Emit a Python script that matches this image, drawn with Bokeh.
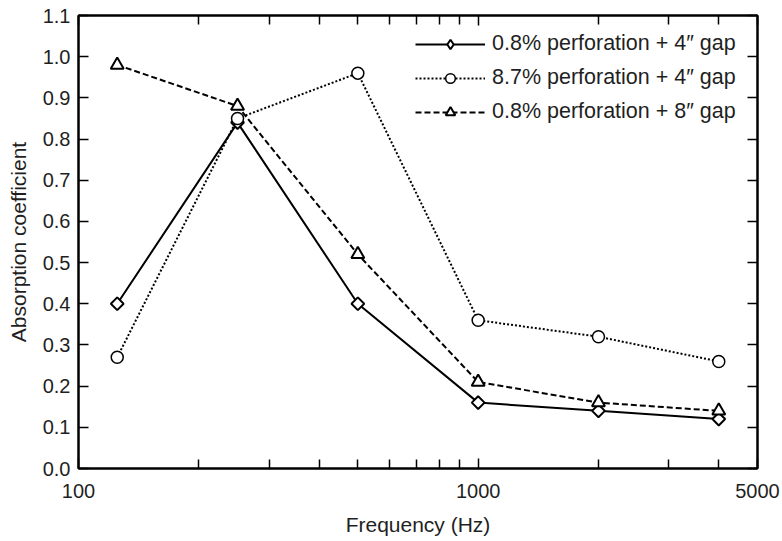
import math
from bokeh.plotting import figure
from bokeh.models import (LogAxis, LinearAxis, FixedTicker, Legend, LegendItem,
                          NumeralTickFormatter, Range1d)
from bokeh.embed import file_html
from bokeh.resources import INLINE

freq = [125, 250, 500, 1000, 2000, 4000]
s1_name = "0.8% perforation + 4\u2033 gap"
s1 = [0.40, 0.84, 0.40, 0.16, 0.14, 0.12]
s2_name = "8.7% perforation + 4\u2033 gap"
s2 = [0.27, 0.85, 0.96, 0.36, 0.32, 0.26]
s3_name = "0.8% perforation + 8\u2033 gap"
s3 = [0.98, 0.88, 0.52, 0.21, 0.16, 0.14]

x_major = [100, 1000, 5000]
x_minor = [200, 300, 400, 500, 600, 700, 800, 900, 2000, 3000, 4000]
y_ticks = [round(0.1 * i, 1) for i in range(12)]

FONT = "Liberation Sans"
TXT = "#1f1f1f"

p = figure(width=782, height=541, x_axis_type="log", output_backend="svg",
           toolbar_location=None, x_range=Range1d(100, 5000), y_range=Range1d(0, 1.1),
           min_border_left=78, min_border_right=25, min_border_top=15, min_border_bottom=73)
p.grid.visible = False
p.outline_line_color = "black"
p.outline_line_width = 2
p.background_fill_color = "white"
p.border_fill_color = "white"

def style_axis(ax, labels=True):
    ax.axis_line_width = 2
    ax.axis_line_color = "black"
    ax.major_tick_in = 10
    ax.major_tick_out = 0
    ax.minor_tick_in = 9
    ax.minor_tick_out = 0
    ax.major_tick_line_width = 1.5
    ax.minor_tick_line_width = 1.5
    ax.major_label_text_font = FONT
    ax.major_label_text_font_size = "20px"
    ax.major_label_text_color = TXT
    ax.axis_label_text_font = FONT
    ax.axis_label_text_font_size = "21px"
    ax.axis_label_text_font_style = "normal"
    ax.axis_label_text_color = TXT
    if not labels:
        ax.major_label_text_alpha = 0
        ax.major_label_text_font_size = "2px"
        ax.major_label_standoff = 0

xa = p.xaxis[0]
xa.ticker = FixedTicker(ticks=x_major, minor_ticks=x_minor)
xa.formatter = NumeralTickFormatter(format="0")
xa.axis_label = "Frequency (Hz)"
style_axis(xa)
xa.major_label_standoff = 15
xa.axis_label_standoff = 12

ya = p.yaxis[0]
ya.ticker = FixedTicker(ticks=y_ticks)
ya.formatter = NumeralTickFormatter(format="0.0")
ya.axis_label = "Absorption coefficient"
style_axis(ya)
ya.minor_tick_in = 0
ya.major_label_standoff = 8
ya.axis_label_standoff = 10

top = LogAxis(ticker=FixedTicker(ticks=x_major, minor_ticks=x_minor))
style_axis(top, labels=False)
p.add_layout(top, "above")
right = LinearAxis(ticker=FixedTicker(ticks=y_ticks))
style_axis(right, labels=False)
right.minor_tick_in = 0
p.add_layout(right, "right")

l1 = p.line(freq, s1, line_color="black", line_width=2)
d1 = p.scatter(freq, s1, marker="diamond", size=11, fill_color="white",
               line_color="black", line_width=2)
m1 = p.scatter(freq, s1, marker="square", size=9, angle=math.pi / 4, fill_color="white",
               line_color="black", line_width=2)
l2 = p.line(freq, s2, line_color="black", line_width=2, line_dash="2 2")
m2 = p.scatter(freq, s2, marker="circle", size=12, fill_color="white",
               line_color="black", line_width=1.5)
l3 = p.line(freq, s3, line_color="black", line_width=2, line_dash="6 3")
m3 = p.scatter(freq, s3, marker="triangle", size=13, fill_color="white",
               line_color="black", line_width=2)

legend = Legend(items=[
    LegendItem(label=s1_name, renderers=[l1, d1]),
    LegendItem(label=s2_name, renderers=[l2, m2]),
    LegendItem(label=s3_name, renderers=[l3, m3]),
], location=(337, 344))
legend.border_line_color = None
legend.background_fill_alpha = 0
legend.glyph_width = 70
legend.glyph_height = 24
legend.label_height = 24
legend.spacing = 9
legend.label_standoff = 7
legend.padding = 0
legend.margin = 0
legend.label_text_font = FONT
legend.label_text_font_size = "21.5px"
legend.label_text_color = TXT
p.add_layout(legend, "center")

open("out.html", "w").write(file_html(p, INLINE))
